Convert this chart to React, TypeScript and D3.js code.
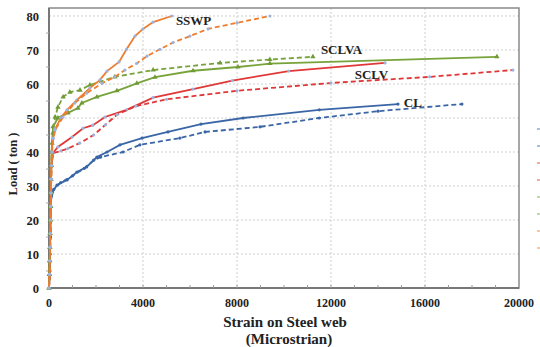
import { useEffect, useRef } from 'react';
import * as d3 from 'd3';

type Pt = [number, number];

// strain (microstrain), load (ton)
const SSWP_A: Pt[] = [
  [0, 0], [20, 4], [30, 8], [40, 12], [50, 16], [60, 20], [70, 24], [80, 28], [90, 32], [100, 36],
  [120, 40], [170, 44], [280, 47], [500, 50], [770, 52.4], [1190, 55.3], [1740, 58.8], [2170, 61.2],
  [2470, 63.8], [2980, 66.5], [3300, 70.2], [3660, 74.1], [4000, 76.2], [4430, 78.2], [5230, 80],
];
const SSWP_B: Pt[] = [
  [0, 0], [25, 4], [35, 8], [45, 12], [55, 16], [65, 20], [75, 24], [85, 28], [95, 32], [105, 36],
  [130, 40], [180, 44], [260, 46.5], [600, 50.3], [1100, 54.4], [1600, 57.3], [2260, 60.2], [2800, 62.1],
  [3230, 64.1], [3740, 66.1], [4170, 68.2], [4720, 70.2], [5280, 72.2], [6000, 74.1], [6770, 76.2],
  [8000, 78], [9400, 80],
];
const SCLVA_A: Pt[] = [
  [0, 0], [20, 4], [30, 8], [40, 12], [50, 16], [60, 20], [70, 24], [80, 28], [90, 32], [100, 36],
  [110, 40], [170, 47.4], [380, 50], [810, 51.5], [1230, 52.9], [1400, 54.4], [2040, 56.2], [2890, 58],
  [3740, 60.2], [4510, 62], [6130, 63.9], [8040, 65], [9400, 66], [19060, 68],
];
const SCLVA_B: Pt[] = [
  [0, 0], [15, 4], [25, 8], [35, 12], [45, 16], [55, 20], [65, 24], [75, 28], [85, 32], [95, 36],
  [120, 40], [130, 42.6], [170, 45.6], [260, 50.3], [380, 53.2], [600, 56.2], [890, 57.6], [1320, 58.2],
  [1740, 59.7], [2800, 62.1], [4430, 64.1], [7280, 66.2], [9400, 67.2], [11230, 68],
];
const SCLV_A: Pt[] = [
  [0, 0], [30, 4], [40, 8], [50, 12], [55, 16], [60, 20], [70, 24], [75, 28], [85, 32], [100, 36],
  [170, 39.7], [380, 41.5], [980, 44.4], [1450, 47], [1870, 47.9], [2380, 50.3], [3300, 52.4],
  [4430, 56], [6130, 58.5], [7800, 61], [10200, 63.8], [14300, 66.2],
];
const SCLV_B: Pt[] = [
  [0, 0], [35, 4], [45, 8], [55, 12], [60, 16], [70, 20], [75, 24], [85, 28], [95, 32], [110, 36],
  [170, 39.7], [500, 40.3], [800, 41], [1300, 42.6], [1900, 45], [2400, 48], [2900, 51], [3700, 53.5],
  [5000, 55.5], [8000, 58], [12000, 60.3], [16200, 62.1], [19740, 64.1],
];
const CL_A: Pt[] = [
  [0, 0], [30, 5], [40, 10], [50, 15], [60, 20], [70, 24], [100, 27], [150, 28.2], [340, 30.3],
  [770, 31.8], [1190, 34.1], [1600, 35.6], [2040, 38.5], [2470, 40], [3020, 42.1], [3960, 44.1],
  [5060, 45.9], [6470, 48.2], [8260, 50], [11500, 52.4], [14850, 54.1],
];
const CL_B: Pt[] = [
  [0, 0], [35, 5], [45, 10], [55, 15], [65, 20], [75, 24], [110, 27.5], [200, 29], [500, 31],
  [1000, 33], [1500, 35.2], [1900, 37.6], [2200, 38.5], [3150, 40], [3870, 42.1], [5570, 44.1],
  [6640, 45.9], [8980, 47.4], [11500, 50], [14000, 52], [17570, 54.1],
];

const SERIES = [
  { name: 'CL', data: CL_A, color: '#3a66a6', dashed: false, marker: 'dot', mk: '#3a66a6' },
  { name: 'CL-b', data: CL_B, color: '#3a66a6', dashed: true, marker: 'dot', mk: '#3a66a6' },
  { name: 'SCLV', data: SCLV_A, color: '#e03838', dashed: false, marker: 'dot', mk: '#9db3dc' },
  { name: 'SCLV-b', data: SCLV_B, color: '#e03838', dashed: true, marker: 'dot', mk: '#9db3dc' },
  { name: 'SCLVA', data: SCLVA_A, color: '#77a33a', dashed: false, marker: 'tri', mk: '#6f9a36' },
  { name: 'SCLVA-b', data: SCLVA_B, color: '#77a33a', dashed: true, marker: 'tri', mk: '#6f9a36' },
  { name: 'SSWP', data: SSWP_A, color: '#ed7d31', dashed: false, marker: 'dot', mk: '#9db3dc' },
  { name: 'SSWP-b', data: SSWP_B, color: '#ed7d31', dashed: true, marker: 'dot', mk: '#9db3dc' },
];

const LABELS: { text: string; at: Pt }[] = [
  { text: 'SSWP', at: [5400, 77.3] },
  { text: 'SCLVA', at: [11570, 68.9] },
  { text: 'SCLV', at: [13010, 61.5] },
  { text: 'CL', at: [15100, 53.3] },
];

const X_TICKS = [0, 4000, 8000, 12000, 16000, 20000];
const Y_TICKS = [0, 10, 20, 30, 40, 50, 60, 70, 80];

export default function App() {
  const svgRef = useRef<SVGSVGElement>(null);

  useEffect(() => {
    if (!svgRef.current) return;
    const svg = d3.select(svgRef.current);
    svg.selectAll('*').remove();

    const x = d3.scaleLinear().domain([0, 20000]).range([49, 519]);
    const y = d3.scaleLinear().domain([0, 80]).range([288, 16]);
    const font = '"Liberation Serif", "Times New Roman", serif';

    svg.append('rect').attr('width', 540).attr('height', 347).attr('fill', '#fff');

    // grid
    svg.append('g').selectAll('line').data(Y_TICKS.filter((d) => d > 0)).join('line')
      .attr('x1', x(0)).attr('x2', x(20000)).attr('y1', (d) => y(d)).attr('y2', (d) => y(d))
      .attr('stroke', '#cfcfcf').attr('stroke-dasharray', '2,2');
    svg.append('g').selectAll('line').data(X_TICKS.slice(1, -1)).join('line')
      .attr('x1', (d) => x(d)).attr('x2', (d) => x(d)).attr('y1', 8).attr('y2', y(0))
      .attr('stroke', '#cfcfcf').attr('stroke-dasharray', '2,2');

    // frame
    svg.append('rect').attr('x', x(0)).attr('y', 8).attr('width', x(20000) - x(0)).attr('height', y(0) - 8)
      .attr('fill', 'none').attr('stroke', '#8a8a8a').attr('stroke-width', 1.5);
    svg.append('line').attr('x1', x(0)).attr('x2', x(0)).attr('y1', 8).attr('y2', y(0))
      .attr('stroke', '#777').attr('stroke-width', 2);
    svg.append('line').attr('x1', x(0)).attr('x2', x(20000)).attr('y1', y(0)).attr('y2', y(0))
      .attr('stroke', '#777').attr('stroke-width', 2);

    // minor ticks
    svg.append('g').selectAll('line').data(d3.range(1000, 20000, 1000)).join('line')
      .attr('x1', (d) => x(d)).attr('x2', (d) => x(d)).attr('y1', y(0)).attr('y2', y(0) - 3)
      .attr('stroke', '#999');
    svg.append('g').selectAll('line').data(d3.range(5, 80, 10)).join('line')
      .attr('x1', x(0) - 3).attr('x2', x(0)).attr('y1', (d) => y(d)).attr('y2', (d) => y(d))
      .attr('stroke', '#aaa');

    // tick labels
    svg.append('g').selectAll('text').data(Y_TICKS).join('text')
      .attr('x', 39).attr('y', (d) => y(d) + 4.5).attr('text-anchor', 'end')
      .attr('font-family', font).attr('font-weight', 'bold').attr('font-size', 12.5).attr('fill', '#222')
      .text((d) => d);
    svg.append('g').selectAll('text').data(X_TICKS).join('text')
      .attr('x', (d) => x(d)).attr('y', 307).attr('text-anchor', 'middle')
      .attr('font-family', font).attr('font-weight', 'bold').attr('font-size', 12).attr('fill', '#222')
      .text((d) => d);

    // axis titles
    svg.append('text').attr('x', 285).attr('y', 327).attr('text-anchor', 'middle')
      .attr('font-family', font).attr('font-weight', 'bold').attr('font-size', 15).attr('fill', '#222')
      .text('Strain on Steel web');
    svg.append('text').attr('x', 289).attr('y', 344).attr('text-anchor', 'middle')
      .attr('font-family', font).attr('font-weight', 'bold').attr('font-size', 15).attr('fill', '#222')
      .text('(Microstrian)');
    svg.append('text').attr('transform', 'translate(17,164) rotate(-90)').attr('text-anchor', 'middle')
      .attr('font-family', font).attr('font-weight', 'bold').attr('font-size', 12.5).attr('fill', '#222')
      .text('Load ( ton )');

    // series
    const line = d3.line<Pt>().x((d) => x(d[0])).y((d) => y(d[1]));
    const tri = d3.symbol().type(d3.symbolTriangle).size(12);
    SERIES.forEach((s) => {
      svg.append('path').attr('d', line(s.data)).attr('fill', 'none')
        .attr('stroke', s.color).attr('stroke-width', 1.8)
        .attr('stroke-dasharray', s.dashed ? '5,3' : null);
      const g = svg.append('g');
      if (s.marker === 'tri') {
        g.selectAll('path').data(s.data).join('path')
          .attr('d', tri).attr('transform', (d) => `translate(${x(d[0])},${y(d[1])})`)
          .attr('fill', s.mk);
      } else {
        g.selectAll('circle').data(s.data).join('circle')
          .attr('cx', (d) => x(d[0])).attr('cy', (d) => y(d[1])).attr('r', 1.6)
          .attr('fill', s.mk);
      }
    });

    // series labels
    svg.append('g').selectAll('text').data(LABELS).join('text')
      .attr('x', (d) => x(d.at[0])).attr('y', (d) => y(d.at[1]))
      .attr('font-family', font).attr('font-weight', 'bold').attr('font-size', 13).attr('fill', '#222')
      .text((d) => d.text);

    // legend fragments cut off at right edge
    const leg = svg.append('g');
    SERIES.forEach((s, i) => {
      leg.append('line').attr('x1', 537).attr('x2', 541)
        .attr('y1', 129 + i * 17).attr('y2', 129 + i * 17)
        .attr('stroke', s.color).attr('stroke-width', 1.2).attr('opacity', 0.7);
    });
  }, []);

  return (
    <svg ref={svgRef} width={540} height={347}
      style={{ position: 'absolute', left: 0, top: 0, background: '#fff' }} />
  );
}
